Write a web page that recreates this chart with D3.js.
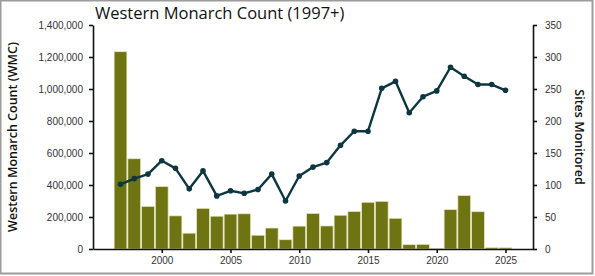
<!DOCTYPE html>
<html>
<head>
<meta charset="utf-8">
<script src="https://cdn.jsdelivr.net/npm/d3@7"></script>
<style>
  body { margin: 0; background: #fff; }
  svg { display: block; font-family: "Open Sans", "DejaVu Sans", sans-serif; }
</style>
</head>
<body>
<svg id="chart" width="595" height="276"></svg>
<script>
// Data
const years = d3.range(1997, 2026);
const monarchCount = [1233000, 564000, 266000, 390000, 207000, 99000, 254000, 205000, 218000, 220000,
    86000, 131000, 58000, 143000, 222000, 144000, 211000, 234000, 292000, 298000,
    192000, 27000, 29000, 1900, 246000, 334000, 233000, 8500, 8000];
const sitesMonitored = [101, 110, 117, 138, 126, 94, 122, 83, 91, 87,
    93, 117, 75, 114, 128, 135, 162, 184, 184, 251,
    262, 213, 238, 247, 284, 270, 257, 257, 248];
const leftTicks = [0, 200000, 400000, 600000, 800000, 1000000, 1200000, 1400000];
const rightTicks = [0, 50, 100, 150, 200, 250, 300, 350];
const yearTicks = [2000, 2005, 2010, 2015, 2020, 2025];

const dataset = years.map((y, i) => ({ year: y, count: monarchCount[i], sites: sitesMonitored[i] }));

let dimensions = {
    width: 595,
    height: 276,
    margins: { top: 25, bottom: 27, left: 93, right: 62 }
};
const innerW = dimensions.width - dimensions.margins.left - dimensions.margins.right;
const innerH = dimensions.height - dimensions.margins.top - dimensions.margins.bottom;

const svg = d3.select('#chart');

// frame
svg.append('rect')
    .attr('x', 0.5).attr('y', 0.5)
    .attr('width', dimensions.width - 3).attr('height', dimensions.height - 3)
    .attr('fill', 'none')
    .attr('stroke', '#9c9c9c')
    .attr('stroke-width', 2);

const ctr = svg.append('g')
    .attr('transform', `translate(${dimensions.margins.left}, ${dimensions.margins.top})`);

// Scales
const xScale = d3.scaleLinear().domain([1995, 2027]).range([0, innerW]);
const yLeft = d3.scaleLinear().domain([0, 1400000]).range([innerH, 0]);
const yRight = d3.scaleLinear().domain([0, 350]).range([innerH, 0]);
const barW = xScale(1998) - xScale(1997);

// Bars
ctr.append('g').selectAll('rect')
    .data(dataset)
    .join('rect')
    .attr('x', d => xScale(d.year) - barW / 2 + 0.5)
    .attr('width', barW - 1)
    .attr('y', d => yLeft(d.count))
    .attr('height', d => innerH - yLeft(d.count))
    .attr('fill', '#6f7412')
    .attr('stroke', '#e9e7c4')
    .attr('stroke-width', 0.7);

// Line
const line = d3.line()
    .x(d => xScale(d.year))
    .y(d => yRight(d.sites));

ctr.append('path')
    .datum(dataset)
    .attr('d', line)
    .attr('fill', 'none')
    .attr('stroke', '#0d3640')
    .attr('stroke-width', 2.4)
    .attr('stroke-linejoin', 'round');

ctr.append('g').selectAll('circle')
    .data(dataset)
    .join('circle')
    .attr('cx', d => xScale(d.year))
    .attr('cy', d => yRight(d.sites))
    .attr('r', 2.8)
    .attr('fill', '#0d3640');

// Axes
const styleAxis = g => {
    g.selectAll('path, line').attr('stroke', '#111').attr('stroke-width', 1.6);
    g.selectAll('text').attr('fill', '#333').style('font-size', '10px');
};

ctr.append('g')
    .call(d3.axisLeft(yLeft).tickValues(leftTicks).tickFormat(d3.format(',')).tickSize(4).tickSizeOuter(0).tickPadding(6))
    .call(styleAxis);

ctr.append('g')
    .attr('transform', `translate(${innerW}, 0)`)
    .call(d3.axisRight(yRight).tickValues(rightTicks).tickSize(4).tickSizeOuter(0).tickPadding(8))
    .call(styleAxis);

ctr.append('g')
    .attr('transform', `translate(0, ${innerH})`)
    .call(d3.axisBottom(xScale).tickValues(yearTicks).tickFormat(d3.format('d')).tickSize(4).tickSizeOuter(0).tickPadding(4))
    .call(styleAxis);

// Titles
svg.append('text')
    .text('Western Monarch Count (1997+)')
    .attr('x', 95)
    .attr('y', 19)
    .style('font-size', '16.5px')
    .attr('fill', '#111');

svg.append('text')
    .text('Western Monarch Count (WMC)')
    .attr('transform', `translate(17, ${dimensions.margins.top + innerH / 2}) rotate(-90)`)
    .attr('text-anchor', 'middle')
    .style('font-size', '12.5px')
    .style('font-weight', '600')
    .attr('fill', '#111');

svg.append('text')
    .text('Sites Monitored')
    .attr('transform', `translate(575, ${dimensions.margins.top + innerH / 2}) rotate(90)`)
    .attr('text-anchor', 'middle')
    .style('font-size', '12.5px')
    .style('font-weight', '600')
    .attr('fill', '#111');
</script>
</body>
</html>
